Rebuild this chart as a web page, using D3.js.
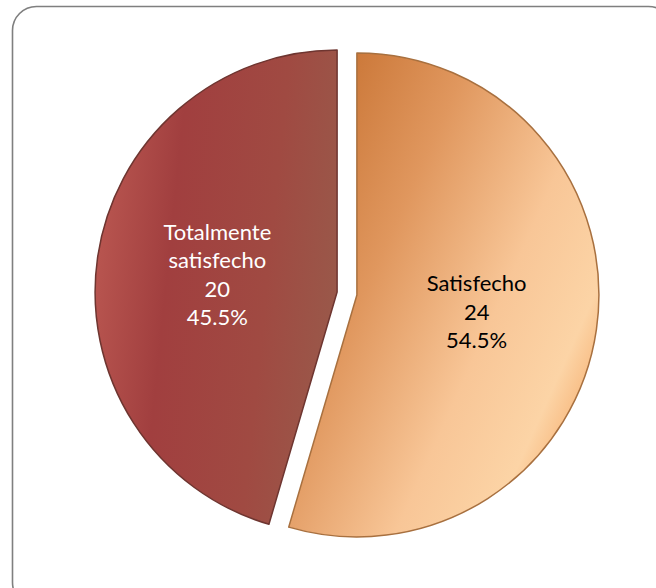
<!DOCTYPE html>
<html>
<head>
<meta charset="utf-8">
<script src="https://cdn.jsdelivr.net/npm/d3@7"></script>
<style>
  body { margin: 0; background: #fff; }
</style>
</head>
<body>
<div id="chart"></div>
<script>
// data
const categories = ["Satisfecho", "Totalmente satisfecho"];
const labelLines = [["Satisfecho"], ["Totalmente", "satisfecho"]];
const values = [24, 20];
const percents = ["54.5%", "45.5%"];

const width = 656;
const height = 588;
const radius = 242;
const cx = 347, cy = 293.5;
const explode = 10;

const svg = d3.select("#chart")
    .append("svg")
    .attr("width", width)
    .attr("height", height);

// frame (runs off the right and bottom edge)
svg.append("rect")
    .attr("x", 12.5)
    .attr("y", 6.5)
    .attr("width", 660)
    .attr("height", 600)
    .attr("rx", 24)
    .attr("fill", "none")
    .attr("stroke", "#7f7f7f")
    .attr("stroke-width", 1.6);

const defs = svg.append("defs");

// orange
const gOr = defs.append("linearGradient")
    .attr("id", "gOrange")
    .attr("x1", "0%").attr("y1", "10%")
    .attr("x2", "100%").attr("y2", "80%");
gOr.append("stop").attr("offset", "0%").attr("stop-color", "#c46d2c");
gOr.append("stop").attr("offset", "35%").attr("stop-color", "#e0975e");
gOr.append("stop").attr("offset", "65%").attr("stop-color", "#f8c697");
gOr.append("stop").attr("offset", "85%").attr("stop-color", "#fcd4a6");
gOr.append("stop").attr("offset", "100%").attr("stop-color", "#f4a460");

// red
const gRed = defs.append("linearGradient")
    .attr("id", "gRed")
    .attr("x1", "0%").attr("y1", "40%")
    .attr("x2", "100%").attr("y2", "60%");
gRed.append("stop").attr("offset", "0%").attr("stop-color", "#b95650");
gRed.append("stop").attr("offset", "30%").attr("stop-color", "#a13f3f");
gRed.append("stop").attr("offset", "70%").attr("stop-color", "#a04a42");
gRed.append("stop").attr("offset", "100%").attr("stop-color", "#99594a");

const fills = ["url(#gOrange)", "url(#gRed)"];
const strokes = ["#a8703f", "#6e3530"];
const textColors = ["#000000", "#ffffff"];

const pie = d3.pie().sort(null).value(d => d)
    .startAngle(0).endAngle(2 * Math.PI);
const arcs = pie(values);

const arc = d3.arc().innerRadius(0).outerRadius(radius);
const labelArc = d3.arc().innerRadius(radius * 0.5).outerRadius(radius * 0.5);
const offset = d3.arc().innerRadius(explode).outerRadius(explode);

const g = svg.append("g")
    .attr("transform", `translate(${cx},${cy})`);

const slices = g.selectAll("g.slice")
    .data(arcs)
    .enter()
    .append("g")
    .attr("class", "slice")
    .attr("transform", d => {
        const [ox, oy] = offset.centroid(d);
        return `translate(${ox},${oy})`;
    });

slices.append("path")
    .attr("d", arc)
    .attr("fill", (d, i) => fills[i])
    .attr("stroke", (d, i) => strokes[i])
    .attr("stroke-width", 1.5)
    .attr("stroke-linejoin", "round");

//labels
slices.each(function(d, i) {
    const lines = labelLines[i].concat([String(values[i]), percents[i]]);
    const [lx, ly] = labelArc.centroid(d);
    const lh = 28.5;
    const t = d3.select(this).append("text")
        .attr("text-anchor", "middle")
        .attr("font-family", "Lato, 'Open Sans', sans-serif")
        .attr("font-size", 22)
        .attr("fill", textColors[i]);
    lines.forEach((s, k) => {
        t.append("tspan")
            .attr("x", lx)
            .attr("y", ly + (k - (lines.length - 1) / 2) * lh)
            .attr("dy", "0.35em")
            .text(s);
    });
});
</script>
</body>
</html>
